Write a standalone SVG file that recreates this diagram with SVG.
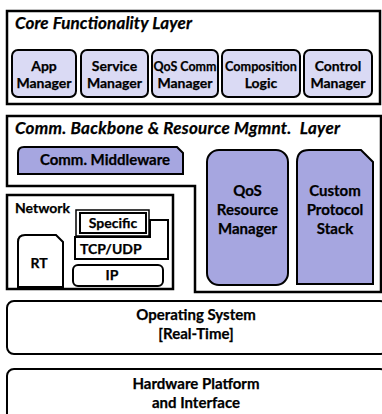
<svg xmlns="http://www.w3.org/2000/svg" width="382" height="414" viewBox="0 0 382 414">
  <style>
    .layer { fill: #ffffff; stroke: #000000; stroke-width: 2.5; }
    .box { stroke: #000000; stroke-width: 2; }
    .light { fill: #dadaf4; }
    .dark { fill: #a6a6e0; }
    .white { fill: #ffffff; }
    text { font-family: Lato, "Liberation Sans", sans-serif; font-weight: bold; fill: #000000; stroke: #000000; stroke-width: 0.25; }
    .title { font-style: italic; font-size: 17px; }
    .lbl { font-size: 14px; text-anchor: middle; }
    .big { font-size: 15px; text-anchor: middle; }
  </style>

  <rect x="0" y="0" width="382" height="414" fill="#ffffff"/>

  <!-- Core functionality layer -->
  <g id="core-layer">
    <rect class="layer" x="7" y="11" width="373" height="93"/>
    <text class="title" x="15" y="29" textLength="177" lengthAdjust="spacing">Core Functionality Layer</text>
  </g>
  <g id="app-manager">
    <rect class="box light" x="12" y="50" width="64" height="47" rx="6"/>
    <text class="lbl" x="44" y="71">App</text>
    <text class="lbl" x="44" y="88">Manager</text>
  </g>
  <g id="service-manager">
    <rect class="box light" x="81" y="50" width="67" height="47" rx="6"/>
    <text class="lbl" x="114.5" y="71">Service</text>
    <text class="lbl" x="114.5" y="88">Manager</text>
  </g>
  <g id="qos-comm-manager">
    <rect class="box light" x="152" y="50" width="66" height="47" rx="6"/>
    <text class="lbl" x="185" y="71" textLength="63" lengthAdjust="spacingAndGlyphs">QoS Comm</text>
    <text class="lbl" x="185" y="88">Manager</text>
  </g>
  <g id="composition-logic">
    <rect class="box light" x="222" y="50" width="78" height="47" rx="6"/>
    <text class="lbl" x="261" y="71" textLength="72" lengthAdjust="spacingAndGlyphs">Composition</text>
    <text class="lbl" x="261" y="88">Logic</text>
  </g>
  <g id="control-manager">
    <rect class="box light" x="304" y="50" width="68" height="47" rx="6"/>
    <text class="lbl" x="338" y="71">Control</text>
    <text class="lbl" x="338" y="88">Manager</text>
  </g>

  <!-- Communication backbone & resource management layer (stepped outline) -->
  <g id="backbone-layer">
    <path class="layer" d="M7,116 H381 V292 H195 V186 H7 Z"/>
    <text class="title" x="15" y="134" textLength="325" lengthAdjust="spacing" xml:space="preserve">Comm. Backbone &amp; Resource Mgmnt.  Layer</text>
  </g>
  <g id="comm-middleware">
    <path class="box dark" d="M24,147 H177 L183,153 V174 H18 V153 Q18,147 24,147 Z"/>
    <text class="big" x="105" y="165">Comm. Middleware</text>
  </g>
  <g id="qos-resource-manager">
    <rect class="box dark" x="207" y="150" width="81" height="135" rx="12"/>
    <text class="big" x="247.5" y="196">QoS</text>
    <text class="big" x="247.5" y="215">Resource</text>
    <text class="big" x="247.5" y="234">Manager</text>
  </g>
  <g id="custom-protocol-stack">
    <path class="box dark" d="M309,150 H361 L373,162 V284 H297 V162 Q297,150 309,150 Z"/>
    <text class="big" x="335" y="196">Custom</text>
    <text class="big" x="335" y="215">Protocol</text>
    <text class="big" x="335" y="234">Stack</text>
  </g>

  <!-- Network block -->
  <g id="network">
    <rect class="layer" x="7" y="195" width="166" height="94"/>
    <text x="15" y="213" font-size="14">Network</text>
  </g>
  <g id="rt">
    <path class="box white" d="M25,235 H56 L63,242 V287 H18 V242 Q18,235 25,235 Z"/>
    <text class="lbl" x="39" y="268">RT</text>
  </g>
  <g id="tcp-udp">
    <path class="box white" d="M75,237 H150 V220 H168 V259 H75 Z"/>
    <text x="80" y="254" font-size="14">TCP/UDP</text>
  </g>
  <g id="specific">
    <rect x="76" y="210" width="73" height="26" fill="#ffffff" stroke="#000000" stroke-width="1.5"/>
    <rect class="box white" x="80" y="213" width="66" height="20"/>
    <text class="lbl" x="113" y="228">Specific</text>
  </g>
  <g id="ip">
    <rect class="box white" x="73" y="265" width="90" height="21" rx="5"/>
    <text class="lbl" x="112" y="280">IP</text>
  </g>

  <!-- Lower layers -->
  <g id="operating-system">
    <rect class="box white" x="7" y="301" width="380" height="53" rx="7"/>
    <text class="big" x="196" y="320">Operating System</text>
    <text class="big" x="196" y="339">[Real-Time]</text>
  </g>
  <g id="hardware-platform">
    <rect class="box white" x="7" y="369" width="380" height="60" rx="7"/>
    <text class="big" x="196" y="389">Hardware Platform</text>
    <text class="big" x="196" y="408">and Interface</text>
  </g>

  <!-- no connectors in this stack diagram -->
  <g id="connectors"/>
</svg>
